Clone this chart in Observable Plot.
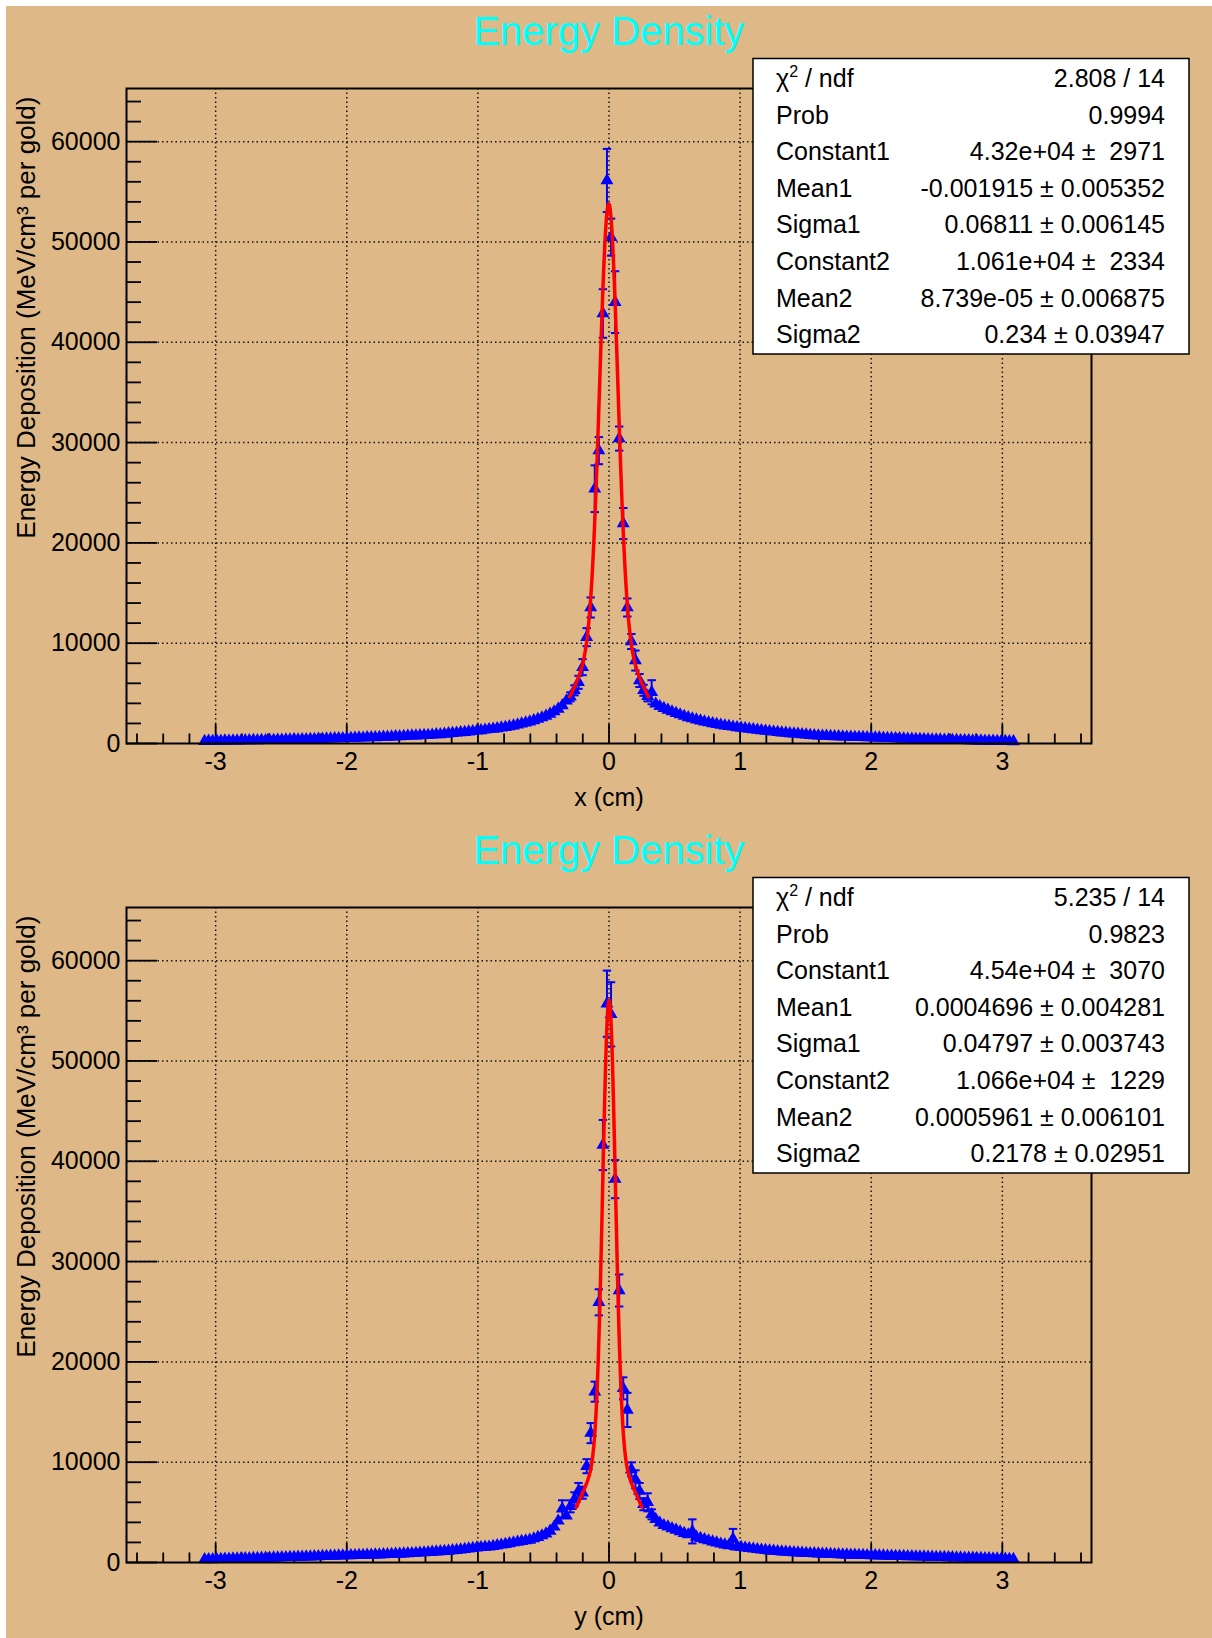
<!DOCTYPE html>
<html><head><meta charset="utf-8">
<script src="https://cdn.jsdelivr.net/npm/d3@7"></script>
<script src="https://cdn.jsdelivr.net/npm/@observablehq/plot@0.6"></script>
<style>
html,body{margin:0;padding:0;background:#fff;overflow:hidden;}
#wrap{position:relative;width:1212px;height:1638px;}
#wrap svg{display:block;}
.edge{position:absolute;background:#fff;z-index:2;}
</style></head><body><div id="wrap"></div>
<script>
// ---------- data ----------
const binLow = -3.1, binWidth = 0.031, nBins = 200;
const binCenters = d3.range(nBins).map(i => binLow + binWidth * (i + 0.5));

const topCounts = [
 230,260,240,270,255,280,265,290,275,285,
 300,295,320,305,330,315,340,335,360,350,
 370,365,390,380,410,400,430,425,450,445,
 470,465,490,510,500,530,520,550,570,560,
 590,610,600,630,650,645,680,700,690,730,
 750,770,765,800,830,820,860,900,890,940,
 1000,1030,1060,1090,1130,1170,1210,1260,1300,1360,
 1410,1450,1500,1570,1630,1700,1780,1870,1960,2060,
 2170,2290,2430,2580,2750,2950,3180,3450,3780,4250,
 4650,5300,6100,7610,10600,13560,25400,29200,42870,56130,
 50480,44000,30400,21930,13560,10170,8270,6280,5300,4700,
 5110,3950,3700,3520,3350,3180,3020,2880,2730,2600,
 2480,2370,2260,2170,2080,2000,1920,1850,1780,1720,
 1660,1600,1540,1490,1440,1390,1340,1300,1250,1210,
 1160,1120,1080,1040,1000,970,940,900,870,830,
 800,780,760,740,725,705,690,675,660,645,
 635,625,615,605,595,580,565,550,535,520,
 505,490,475,460,445,430,420,405,395,385,
 375,365,355,345,335,325,315,310,300,290,
 280,270,260,255,245,240,230,225,215,210];
const topErrBins = [90,91,92,93,94,95,96,97,98,99,100,101,102,103,104,105,106,107,108,109,110];
const topErrs    = [450,500,650,800,900,1000,2330,1350,2420,3150,1850,3080,1200,1550,900,750,1000,650,550,500,1200];

const bottomCounts = [
 300,310,305,330,325,350,345,365,370,390,
 400,405,420,425,440,450,455,470,480,500,
 510,515,530,540,555,570,575,590,600,620,
 630,640,655,670,685,700,700,710,720,730,
 740,750,765,780,795,810,825,840,855,870,
 890,910,935,960,985,1010,1040,1070,1090,1120,
 1150,1190,1230,1270,1320,1370,1420,1470,1510,1540,
 1560,1620,1690,1760,1830,1900,1980,2050,2120,2180,
 2250,2380,2520,2680,2860,3150,3550,4150,5350,4650,
 5600,6300,7130,6960,9600,12900,17030,25940,41620,55710,
 54650,38220,27120,17360,15210,9280,8290,7130,5810,6000,
 4800,4300,3950,3700,3560,3400,3250,3080,2920,2780,
 3100,2550,2420,2300,2180,2060,1960,1860,1780,1700,
 2350,1580,1520,1460,1410,1360,1310,1260,1220,1180,
 1140,1110,1080,1050,1020,990,970,950,930,910,
 890,870,860,840,830,810,800,780,770,750,
 740,730,720,710,700,690,680,670,655,645,
 635,625,615,605,595,585,575,565,555,545,
 535,525,515,505,495,485,470,460,450,440,
 430,420,405,395,385,370,360,350,335,320];
const bottomErrBins = [88,90,91,92,93,94,95,96,97,98,99,100,101,102,103,104,105,106,107,108,109,110,120,130];
const bottomErrs    = [850,600,700,800,600,700,1000,1000,1300,2500,3300,3200,1900,1600,1100,1700,700,900,800,600,900,500,1200,1000];

// fit parameters: Constant1, Mean1, Sigma1, Constant2, Mean2, Sigma2
const topFit = [43200, -0.001915, 0.06811, 10610, 8.739e-05, 0.234];
const bottomFit = [45400, 0.0004696, 0.04797, 10660, 0.0005961, 0.2178];
const topFitRange = [-0.3, 0.3];
const bottomFitRange = [-0.25, 0.25];

const statLabels = ["χ2 / ndf", "Prob", "Constant1", "Mean1", "Sigma1", "Constant2", "Mean2", "Sigma2"];
const topStats = ["2.808 / 14", "0.9994", "4.32e+04 ±  2971", "-0.001915 ± 0.005352", "0.06811 ± 0.006145", "1.061e+04 ±  2334", "8.739e-05 ± 0.006875", "0.234 ± 0.03947"];
const bottomStats = ["5.235 / 14", "0.9823", "4.54e+04 ±  3070", "0.0004696 ± 0.004281", "0.04797 ± 0.003743", "1.066e+04 ±  1229", "0.0005961 ± 0.006101", "0.2178 ± 0.02951"];

const titleText = "Energy Density";
const yTitle = "Energy Deposition (MeV/cm³ per gold)";
const topXTitle = "x (cm)";
const bottomXTitle = "y (cm)";

const xMajor = [-3, -2, -1, 0, 1, 2, 3];
const xMinor = d3.range(-36, 37, 2).filter(v => v % 10 !== 0).map(v => v / 10);
const yLabels = [0, 10000, 20000, 30000, 40000, 50000, 60000];
const yGrid = [10000, 20000, 30000, 40000, 50000, 60000];
const yMinor = d3.range(2000, 65000, 2000).filter(v => v % 10000 !== 0);
const xDomain = [-3.68, 3.68];
const yDomain = [0, 65300];

// ---------- drawing ----------
const W = 1212, H = 819, ML = 126, MR = 121, MT = 88, MB = 76;
const FW = W - ML - MR, FH = H - MT - MB;
const FONT = "'Liberation Sans', Arial, Helvetica, sans-serif";

const capSymbol = {draw(ctx, size) { const w = Math.sqrt(size / Math.PI); ctx.moveTo(-w, 0); ctx.lineTo(w, 0); }};

function panel(counts, errBins, errs, fit, fitRange, xTitle, stats) {
  const pts = counts.map((v, i) => ({x: binCenters[i], y: v}));
  const bars = errBins.map((k, j) => ({x: binCenters[k], lo: counts[k] - errs[j], hi: counts[k] + errs[j]}));
  const caps = bars.flatMap(d => [{x: d.x, y: d.lo}, {x: d.x, y: d.hi}]);
  const gaus = (x, c, m, s) => c * Math.exp(-0.5 * ((x - m) / s) ** 2);
  const fitPts = d3.range(201).map(k => {
    const x = fitRange[0] + (fitRange[1] - fitRange[0]) * k / 200;
    return {x, y: gaus(x, fit[0], fit[1], fit[2]) + gaus(x, fit[3], fit[4], fit[5])};
  });
  const gridStyle = {stroke: "#000", strokeOpacity: 0.9, strokeWidth: 1.5, strokeDasharray: "1.5,3"};
  const svg = Plot.plot({
    width: W, height: H,
    marginLeft: ML, marginRight: MR, marginTop: MT, marginBottom: MB,
    x: {domain: xDomain}, y: {domain: yDomain},
    style: {background: "#deb887", fontFamily: FONT, overflow: "visible"},
    marks: [
      Plot.gridX(xMajor, gridStyle),
      Plot.gridY(yGrid, gridStyle),
      Plot.tickX(xMajor, {x: d => d, insetTop: FH - 19, stroke: "#000", strokeWidth: 1.8}),
      Plot.tickX(xMinor, {x: d => d, insetTop: FH - 9.5, stroke: "#000", strokeWidth: 1.8}),
      Plot.tickY(yLabels, {y: d => d, insetRight: FW - 31, stroke: "#000", strokeWidth: 1.8}),
      Plot.tickY(yMinor, {y: d => d, insetRight: FW - 15, stroke: "#000", strokeWidth: 1.8}),
      Plot.axisX(xMajor, {tickSize: 0, tickPadding: 9, fontSize: 25, tickFormat: d => String(d), label: null}),
      Plot.axisY(yLabels, {tickSize: 0, tickPadding: 6, fontSize: 25, tickFormat: d => String(d), label: null}),
      Plot.ruleX(bars, {x: "x", y1: "lo", y2: "hi", stroke: "#0000ff", strokeWidth: 2}),
      Plot.dot(caps, {x: "x", y: "y", symbol: capSymbol, r: 4.2, fill: "none", stroke: "#0000ff", strokeWidth: 2}),
      Plot.dot(pts, {x: "x", y: "y", symbol: "triangle", r: 4.8, fill: "#0000ff", stroke: "none"}),
      Plot.line(fitPts, {x: "x", y: "y", stroke: "#ff0000", strokeWidth: 3.5}),
      Plot.frame({stroke: "#000", strokeWidth: 2}),
      Plot.text([titleText], {frameAnchor: "top", dy: -72, fontSize: 40, fill: "#00ffff"}),
      Plot.text([xTitle], {frameAnchor: "bottom", dy: 62, fontSize: 25}),
      Plot.text([yTitle], {frameAnchor: "top-left", rotate: -90, textAnchor: "end", dx: -110, dy: 8, fontSize: 26})
    ]
  });
  // statistics box
  const g = d3.select(svg).append("g").attr("font-family", FONT).attr("font-size", 25).attr("fill", "#000");
  g.append("rect").attr("x", 753).attr("y", 58.5).attr("width", 436).attr("height", 295.5)
    .attr("fill", "#fff").attr("stroke", "#000").attr("stroke-width", 1.5);
  statLabels.forEach((lab, k) => {
    const yb = 87 + 36.6 * k;
    const t = g.append("text").attr("x", 776).attr("y", yb).attr("text-anchor", "start");
    if (k === 0) {
      t.append("tspan").text("χ");
      t.append("tspan").attr("font-size", 16).attr("dy", -10).text("2");
      t.append("tspan").attr("dy", 10).text(" / ndf");
    } else t.text(lab);
    g.append("text").attr("x", 1165).attr("y", yb).attr("text-anchor", "end")
      .style("white-space", "pre").text(stats[k]);
  });
  return svg;
}

const wrap = document.getElementById("wrap");
wrap.appendChild(panel(topCounts, topErrBins, topErrs, topFit, topFitRange, topXTitle, topStats));
wrap.appendChild(panel(bottomCounts, bottomErrBins, bottomErrs, bottomFit, bottomFitRange, bottomXTitle, bottomStats));
// thin white canvas edge on the top and left
const e1 = document.createElement("div"); e1.className = "edge";
Object.assign(e1.style, {left: "0px", top: "0px", width: "1212px", height: "6px"});
const e2 = document.createElement("div"); e2.className = "edge";
Object.assign(e2.style, {left: "0px", top: "0px", width: "6px", height: "1638px"});
wrap.appendChild(e1); wrap.appendChild(e2);
</script></body></html>
